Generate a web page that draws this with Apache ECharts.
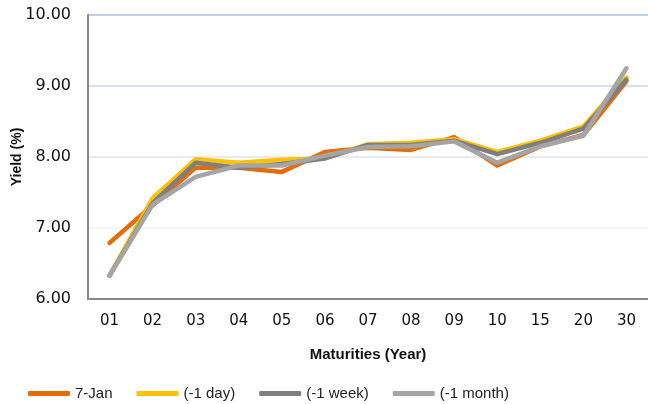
<!DOCTYPE html>
<html>
<head>
  <meta charset="utf-8">
  <script src="https://cdn.jsdelivr.net/npm/echarts@6/dist/echarts.min.js"></script>
</head>
<body style="margin: 0;">
  <div id="container" style="width: 648px; height: 404px;"></div>
  <script type="text/javascript">
    var maturities = ['01', '02', '03', '04', '05', '06', '07', '08', '09', '10', '15', '20', '30'];
    var seriesNames = ['7-Jan', '(-1 day)', '(-1 week)', '(-1 month)'];
    var jan7 = [6.79, 7.32, 7.85, 7.85, 7.79, 8.07, 8.13, 8.10, 8.28, 7.88, 8.15, 8.31, 9.07];
    var day1 = [6.33, 7.42, 7.97, 7.92, 7.96, 7.98, 8.18, 8.20, 8.25, 8.07, 8.23, 8.43, 9.12];
    var week1 = [6.33, 7.35, 7.92, 7.85, 7.90, 7.98, 8.17, 8.17, 8.23, 8.04, 8.20, 8.40, 9.09];
    var month1 = [6.33, 7.33, 7.72, 7.88, 7.88, 8.02, 8.14, 8.15, 8.22, 7.92, 8.15, 8.30, 9.25];
    var colors = ['#E46C0A', '#FFC000', '#7F7F7F', '#A5A5A5'];

    var dom = document.getElementById('container');
    var myChart = echarts.init(dom, null, { renderer: 'canvas' });

    function line(name, data, color) {
      return {
        name: name,
        type: 'line',
        data: data,
        symbol: 'none',
        lineStyle: { color: color, width: 4.5, cap: 'round', join: 'round' },
        itemStyle: { color: color }
      };
    }

    var option = {
      animation: false,
      color: colors,
      grid: { left: 88, right: 0, top: 15, bottom: 105, outerBoundsMode: 'none', containLabel: false },
      legend: {
        top: 381,
        left: 23,
        itemWidth: 42,
        itemHeight: 5,
        itemGap: 24,
        icon: 'roundRect',
        textStyle: { fontFamily: 'Liberation Sans', fontSize: 15, color: '#222' },
        data: seriesNames
      },
      xAxis: {
        type: 'category',
        data: maturities,
        boundaryGap: true,
        name: 'Maturities (Year)',
        nameLocation: 'middle',
        nameGap: 48,
        nameMoveOverlap: false,
        nameTextStyle: { fontFamily: 'Liberation Sans', fontWeight: 'bold', fontSize: 15, color: '#111' },
        axisLine: { lineStyle: { color: '#888', width: 2 } },
        axisTick: { show: false },
        axisLabel: { fontFamily: 'DejaVu Sans', fontSize: 15, color: '#111', margin: 15 }
      },
      yAxis: {
        type: 'value',
        min: 6,
        max: 10,
        interval: 1,
        name: 'Yield (%)',
        nameLocation: 'middle',
        nameGap: 64,
        nameRotate: 90,
        nameMoveOverlap: false,
        nameTextStyle: { fontFamily: 'Liberation Sans', fontWeight: 'bold', fontSize: 14, color: '#111' },
        axisLine: { show: true, lineStyle: { color: '#888', width: 2 } },
        axisTick: { show: false },
        axisLabel: {
          fontFamily: 'DejaVu Sans', fontSize: 16, color: '#111', margin: 17,
          formatter: function (v) { return v.toFixed(2); }
        },
        splitLine: {
          lineStyle: { color: ['#ffffff', '#EEF2F8', '#DCE3EF', '#C8D4EA', '#A8BCE4'], width: 1.5 }
        }
      },
      series: [
        line(seriesNames[0], jan7, colors[0]),
        line(seriesNames[1], day1, colors[1]),
        line(seriesNames[2], week1, colors[2]),
        line(seriesNames[3], month1, colors[3])
      ]
    };
    myChart.setOption(option);
  </script>
</body>
</html>
